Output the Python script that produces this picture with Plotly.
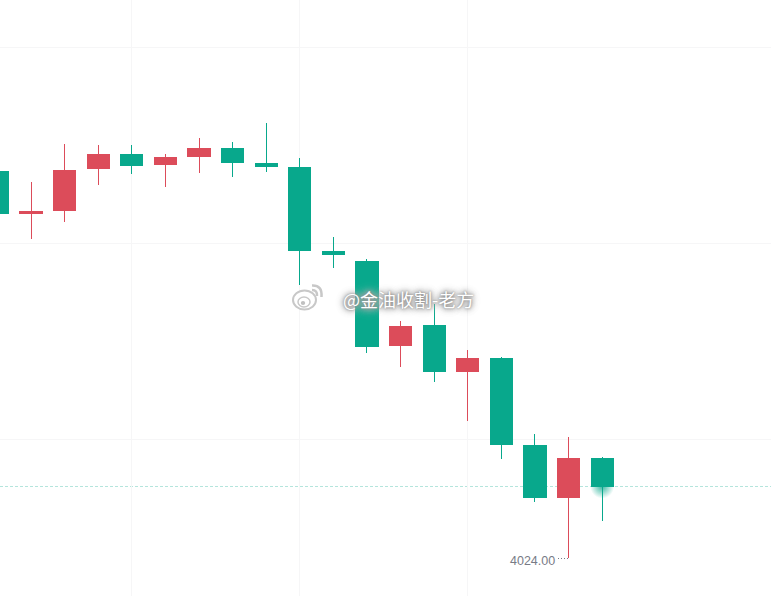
import plotly.graph_objects as go

# OHLC series for the session, one entry per candle
candle_index = list(range(19))
open_prices = [4270.6, 4243.8, 4245.7, 4272.5, 4281.5, 4275.0, 4280.2, 4285.3, 4275.7, 4273.2,
               4219.6, 4213.2, 4159.6, 4172.4, 4143.0, 4151.4, 4095.9, 4062.7, 4087.6]
high_prices = [4271.6, 4263.9, 4288.1, 4287.5, 4287.5, 4281.8, 4292.0, 4289.4, 4301.5, 4279.2,
               4228.8, 4214.8, 4175.3, 4186.1, 4156.8, 4152.3, 4103.2, 4101.3, 4088.5]
low_prices = [4243.0, 4227.6, 4238.4, 4262.0, 4269.0, 4260.7, 4269.6, 4267.1, 4270.3, 4198.2,
              4209.1, 4154.8, 4145.9, 4136.4, 4111.5, 4087.2, 4059.8, 4024.0, 4047.7]
close_prices = [4243.8, 4245.1, 4271.3, 4281.5, 4274.4, 4279.6, 4285.3, 4276.3, 4273.8, 4220.2,
                4217.6, 4159.0, 4171.8, 4143.0, 4151.4, 4096.5, 4062.7, 4087.6, 4069.7]
low_label = "4024.00"
watermark_text = "@金油收割-老方"

# Axis guides
price_grid = [4100, 4225, 4350]
time_grid = [4, 9, 14]

GREEN = "#08a88c"
RED = "#dc4c5a"
GRID = "#f6f6f7"

fig = go.Figure()

# Soft pulse behind the latest candle at the last traded price
fig.add_trace(go.Scatter(
    x=[candle_index[-1]], y=[close_prices[-1]], mode="markers",
    marker=dict(size=24, color="rgba(8,168,140,0)", line_width=0,
                gradient=dict(type="radial", color="rgba(8,168,140,0.8)")),
    hoverinfo="skip", showlegend=False,
))

fig.add_trace(go.Candlestick(
    x=candle_index, open=open_prices, high=high_prices, low=low_prices, close=close_prices,
    increasing=dict(line=dict(color=RED, width=1), fillcolor=RED),
    decreasing=dict(line=dict(color=GREEN, width=1), fillcolor=GREEN),
    whiskerwidth=0, showlegend=False,
))

shapes = [
    # Last price line
    dict(type="line", xref="paper", x0=0, x1=1, yref="y", y0=close_prices[-1], y1=close_prices[-1],
         line=dict(color="rgba(8,168,140,0.3)", width=1, dash="3px,2px"), layer="below"),
    # Dotted leader from the session low to its label
    dict(type="line", xref="x", xsizemode="pixel", xanchor=candle_index[-2], x0=-11, x1=0,
         yref="y", y0=min(low_prices), y1=min(low_prices),
         line=dict(color="#787b86", width=1, dash="1px,2px")),
]


def px(x, y):
    """Page pixel position to paper fractions."""
    return x / 771, 1 - y / 596


def ellipse(cx, cy, rx, ry, **line):
    x0, y0 = px(cx - rx, cy - ry)
    x1, y1 = px(cx + rx, cy + ry)
    return dict(type="circle", xref="paper", yref="paper", x0=x0, x1=x1, y0=y0, y1=y1, **line)


def arc(points):
    coords = [px(*p) for p in points]
    d = f"M{coords[0][0]},{coords[0][1]} Q{coords[1][0]},{coords[1][1]} {coords[2][0]},{coords[2][1]}"
    return dict(type="path", path=d, xref="paper", yref="paper",
                line=dict(color="#c8c8c8", width=2.5))


# Weibo mark beside the watermark text
shapes += [
    ellipse(304.5, 300, 11.5, 9.5, fillcolor="rgba(255,255,255,0.85)", line=dict(color="#c8c8c8", width=2)),
    ellipse(304, 302, 6, 5, fillcolor="rgba(255,255,255,0.9)", line=dict(color="#c8c8c8", width=1.5)),
    ellipse(303, 303, 2.2, 2, fillcolor="#c0c0c0", line=dict(width=0)),
    arc([(312, 285.5), (322.5, 285), (321.5, 297)]),
    arc([(312, 290), (317.5, 290), (317, 296)]),
]

annotations = [
    dict(x=candle_index[-2], y=min(low_prices), xref="x", yref="y", text=low_label, showarrow=False,
         xanchor="right", yanchor="middle", xshift=-12, yshift=-3,
         font=dict(family="Liberation Sans", size=12.5, color="#787b86")),
    dict(x=408.5 / 771, y=1 - 299 / 596, xref="paper", yref="paper", text=watermark_text, showarrow=False,
         font=dict(family="Noto Sans CJK SC", size=18, color="#ffffff",
                   shadow="0 0 2px #8a8a8a, 0 0 4px #909090, 0 0 6px #a8a8a8, 0 0 9px #b8b8b8, 0 0 12px #d0d0d0")),
]

fig.update_layout(
    width=771, height=596, margin=dict(l=0, r=0, t=0, b=0),
    paper_bgcolor="#ffffff", plot_bgcolor="#ffffff",
    boxgap=0.34, boxgroupgap=0, showlegend=False, shapes=shapes, annotations=annotations,
    xaxis=dict(range=[0.077, 23.025], tickmode="array", tickvals=time_grid, showticklabels=False,
               showgrid=True, gridcolor=GRID, gridwidth=1, zeroline=False, showline=False,
               ticks="", rangeslider=dict(visible=False)),
    yaxis=dict(range=[3999.87, 4380.0], tickmode="array", tickvals=price_grid, showticklabels=False,
               showgrid=True, gridcolor=GRID, gridwidth=1, zeroline=False, showline=False, ticks=""),
)

# Pixel-snapped candle bodies and the two horizontal dashed guides
crisp_edges = """
document.querySelectorAll('.boxes path').forEach(p => p.style.shapeRendering = 'crispEdges');
document.querySelectorAll('.shapelayer path').forEach(p => {
    if (p.style.strokeDasharray) p.style.shapeRendering = 'crispEdges';
});
"""
fig.write_html("out.html", config=dict(displayModeBar=False), post_script=crisp_edges)
